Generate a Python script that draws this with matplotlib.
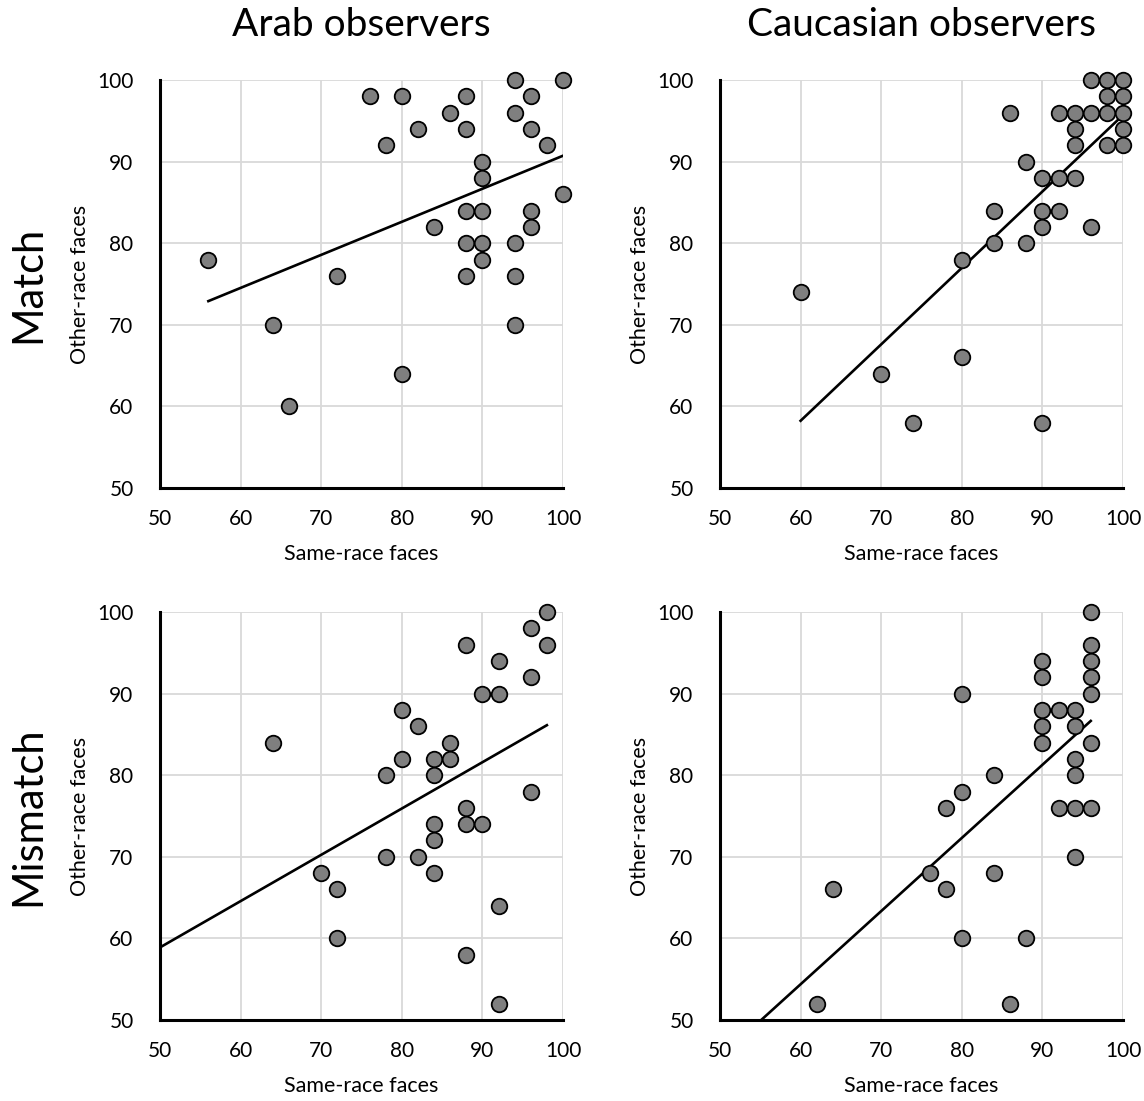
import numpy as np
import matplotlib
matplotlib.use('Agg')
import matplotlib.pyplot as plt

plt.rcParams['font.family'] = ['Lato', 'DejaVu Sans']

# Arab observers, match trials (same-race %, other-race %)
arab_match_same = [94, 100, 76, 80, 88, 96, 86, 94, 82, 88, 96, 78, 98, 90, 90, 100,
                   88, 90, 96, 84, 96, 88, 90, 94, 56, 90, 72, 88, 94, 64, 94, 80, 66]
arab_match_other = [100, 100, 98, 98, 98, 98, 96, 96, 94, 94, 94, 92, 92, 90, 88, 86,
                    84, 84, 84, 82, 82, 80, 80, 80, 78, 78, 76, 76, 76, 70, 70, 64, 60]

# Caucasian observers, match trials
cauc_match_same = [96, 98, 100, 98, 100, 86, 92, 94, 96, 98, 100, 94, 100, 94, 98, 100,
                   88, 90, 92, 94, 84, 90, 92, 90, 96, 84, 88, 80, 60, 80, 70, 74, 90]
cauc_match_other = [100, 100, 100, 98, 98, 96, 96, 96, 96, 96, 96, 94, 94, 92, 92, 92,
                    90, 88, 88, 88, 84, 84, 84, 82, 82, 80, 80, 78, 74, 66, 64, 58, 58]

# Arab observers, mismatch trials
arab_mis_same = [98, 96, 88, 98, 92, 96, 90, 92, 80, 82, 64, 86, 80, 84, 86, 78, 84,
                 96, 88, 84, 88, 90, 84, 78, 82, 70, 84, 72, 92, 72, 88, 92]
arab_mis_other = [100, 98, 96, 96, 94, 92, 90, 90, 88, 86, 84, 84, 82, 82, 82, 80, 80,
                  78, 76, 74, 74, 74, 72, 70, 70, 68, 68, 66, 64, 60, 58, 52]

# Caucasian observers, mismatch trials
cauc_mis_same = [96, 96, 90, 96, 90, 96, 80, 96, 90, 92, 94, 90, 94, 90, 96, 94, 84, 94,
                 80, 78, 92, 94, 96, 94, 76, 84, 64, 78, 80, 88, 62, 86]
cauc_mis_other = [100, 96, 94, 94, 92, 92, 90, 90, 88, 88, 88, 86, 86, 84, 84, 82, 80, 80,
                  78, 76, 76, 76, 76, 70, 68, 68, 66, 66, 60, 60, 52, 52]

col_titles = ['Arab observers', 'Caucasian observers']
row_titles = ['Match', 'Mismatch']
ticks = [50, 60, 70, 80, 90, 100]

panels = [
    (arab_match_same, arab_match_other, False),
    (cauc_match_same, cauc_match_other, False),
    (arab_mis_same, arab_mis_other, True),
    (cauc_mis_same, cauc_mis_other, True),
]


def draw_panel(ax, same, other, extend_back):
    same = np.array(same)
    other = np.array(other)
    ax.set_xlim(50, 100)
    ax.set_ylim(50, 100)
    ax.set_xticks(ticks)
    ax.set_yticks(ticks)
    ax.grid(True, color='#d9d9d9', linewidth=1.3)
    ax.set_axisbelow(True)
    for side in ['top', 'right']:
        ax.spines[side].set_visible(False)
    for side in ['left', 'bottom']:
        ax.spines[side].set_linewidth(2.2)
        ax.spines[side].set_color('black')
        ax.spines[side].set_zorder(4)
    ax.tick_params(length=0, labelsize=15)
    ax.tick_params(axis='x', pad=15)
    ax.tick_params(axis='y', pad=19)

    # linear trendline
    slope, intercept = np.polyfit(same, other, 1)
    x0 = 50 if extend_back else same.min()
    xs = np.array([x0, same.max()])
    ax.plot(xs, slope * xs + intercept, color='black', linewidth=1.9, zorder=3)

    ax.plot(same, other, 'o', markersize=11.2, markerfacecolor='#7f7f7f',
            markeredgecolor='black', markeredgewidth=1.3, clip_on=False, zorder=5)

    ax.set_xlabel('Same-race faces', fontsize=15.5)
    ax.set_ylabel('Other-race faces', fontsize=15.5)
    ax.xaxis.set_label_coords(0.5, -0.162)
    ax.xaxis.label.set_va('center')
    ax.yaxis.set_label_coords(-0.198, 0.5)
    ax.yaxis.label.set_va('center')


fig = plt.figure(figsize=(11.44, 11.01), dpi=100)
lefts = [160 / 1144, 720 / 1144]
bottoms = [1 - 488 / 1101, 1 - 1020 / 1101]
w = 403 / 1144
h = 408 / 1101

for i, (same, other, ext) in enumerate(panels):
    r, c = divmod(i, 2)
    ax = fig.add_axes([lefts[c], bottoms[r], w, h])
    draw_panel(ax, same, other, ext)
    if r == 0:
        ax.text(0.5, 1 + 55 / 408, col_titles[c], transform=ax.transAxes,
                ha='center', va='center', fontsize=28)

fig.text(28 / 1144, 1 - 284 / 1101, row_titles[0], rotation=90,
         ha='center', va='center', fontsize=30)
fig.text(28 / 1144, 1 - 816 / 1101, row_titles[1], rotation=90,
         ha='center', va='center', fontsize=30)

fig.savefig('out.png', dpi=100)
